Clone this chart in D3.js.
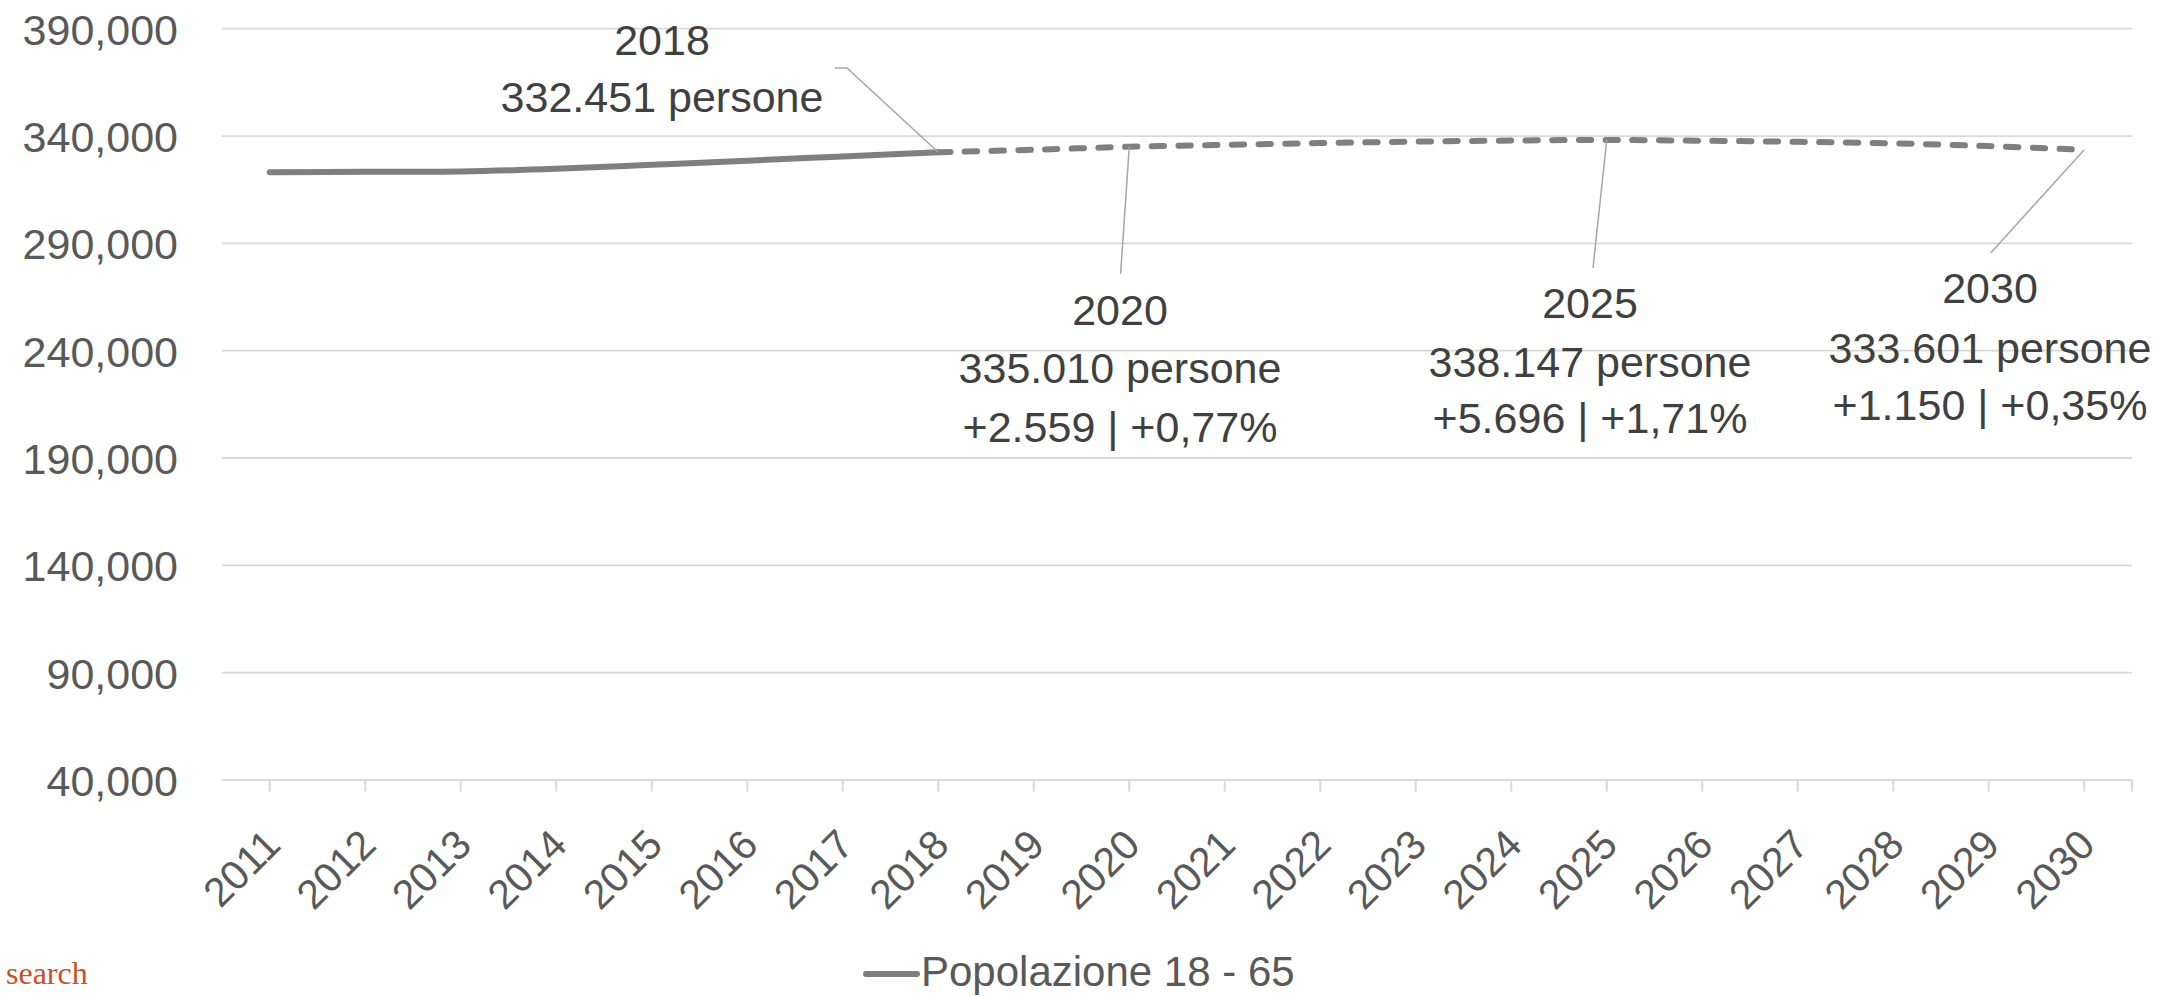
<!DOCTYPE html>
<html>
<head>
<meta charset="utf-8">
<script src="https://cdn.jsdelivr.net/npm/d3@7/dist/d3.min.js"></script>
<style>
  html, body { margin: 0; padding: 0; background: #ffffff; }
  svg { display: block; }
</style>
</head>
<body>
<svg id="chart" width="2181" height="996"></svg>
<script>
// ---------------- DATA ----------------
const years = [2011, 2012, 2013, 2014, 2015, 2016, 2017, 2018, 2019, 2020,
               2021, 2022, 2023, 2024, 2025, 2026, 2027, 2028, 2029, 2030];
const storicoYears = [2011, 2012, 2013, 2014, 2015, 2016, 2017, 2018];
const storicoValues = [323100, 323400, 323500, 324700, 326600, 328500, 330500, 332451];
const proiezioneYears = [2018, 2019, 2020, 2021, 2022, 2023, 2024, 2025, 2026, 2027, 2028, 2029, 2030];
const proiezioneValues = [332451, 333600, 335010, 335900, 336700, 337400, 337900, 338147, 337800, 337300, 336600, 335300, 333601];
const yTicks = [40000, 90000, 140000, 190000, 240000, 290000, 340000, 390000];
const seriesName = "Popolazione 18 - 65";
const annotationYears = [2018, 2020, 2025, 2030];
const annotationValues = [332451, 335010, 338147, 333601];
const annotationTexts = [
  ["2018", "332.451 persone"],
  ["2020", "335.010 persone", "+2.559 | +0,77%"],
  ["2025", "338.147 persone", "+5.696 | +1,71%"],
  ["2030", "333.601 persone", "+1.150 | +0,35%"]
];
const sourceText = "search";

// ---------------- LAYOUT ----------------
const font = "'Liberation Sans', Arial, sans-serif";
const plot = { left: 222, right: 2132, top: 28.7, bottom: 780 };
// label layout: text centre x, baselines, leader start
const annLayout = [
  { cx: 662,  base: [55, 112],       leader: [[835, 68], [847, 68]] },
  { cx: 1120, base: [325, 383, 442], leader: [[1120.6, 274]] },
  { cx: 1590, base: [318, 377, 433], leader: [[1593, 268]] },
  { cx: 1990, base: [303, 363, 420], leader: [[1990.7, 253]] }
];

const svg = d3.select("#chart");

const x = d3.scalePoint().domain(years).range([plot.left, plot.right]).padding(0.5);
const y = d3.scaleLinear().domain([40000, 390000]).range([plot.bottom, plot.top]);

// gridlines
svg.append("g").selectAll("line").data(yTicks.filter(d => d !== 40000)).join("line")
  .attr("x1", plot.left).attr("x2", plot.right)
  .attr("y1", d => y(d)).attr("y2", d => y(d))
  .attr("stroke", "#d9d9d9").attr("stroke-width", 1.8);

// y axis labels
const yAxis = d3.axisLeft(y).tickValues(yTicks).tickSize(0).tickPadding(0)
  .tickFormat(d3.format(","));
const gy = svg.append("g").attr("transform", `translate(${178},0)`).call(yAxis);
gy.select(".domain").remove();
gy.selectAll("text").attr("font-family", font).attr("font-size", 43)
  .attr("fill", "#595959").attr("dy", "0.36em");

// x axis
const gx = svg.append("g").attr("transform", `translate(0,${plot.bottom})`);
gx.append("line").attr("x1", plot.left).attr("x2", plot.right)
  .attr("stroke", "#d9d9d9").attr("stroke-width", 2);
const tickXs = years.map(d => x(d)).concat([plot.right]);
gx.selectAll("line.tick").data(tickXs).join("line").attr("class", "tick")
  .attr("x1", d => d).attr("x2", d => d).attr("y1", 0).attr("y2", 11.5)
  .attr("stroke", "#d9d9d9").attr("stroke-width", 2);
gx.selectAll("text").data(years).join("text")
  .attr("transform", d => `translate(${x(d) + 13},${67}) rotate(-45)`)
  .attr("text-anchor", "end")
  .attr("font-family", font).attr("font-size", 41).attr("fill", "#595959")
  .text(d => d);

// lines
const line = d3.line().x(d => x(d[0])).y(d => y(d[1])).curve(d3.curveCardinal.tension(0));
svg.append("path")
  .datum(proiezioneYears.map((d, i) => [d, proiezioneValues[i]]))
  .attr("d", line).attr("fill", "none").attr("stroke", "#7f7f7f")
  .attr("stroke-width", 6).attr("stroke-linecap", "round")
  .attr("stroke-dasharray", "12.3 14.4");
svg.append("path")
  .datum(storicoYears.map((d, i) => [d, storicoValues[i]]))
  .attr("d", line).attr("fill", "none").attr("stroke", "#7f7f7f")
  .attr("stroke-width", 6).attr("stroke-linecap", "round").attr("stroke-linejoin", "round");

// annotations
annotationYears.forEach((yr, i) => {
  const L = annLayout[i];
  const pts = L.leader.concat([[x(yr), y(annotationValues[i])]]);
  svg.append("path").attr("d", d3.line()(pts))
    .attr("fill", "none").attr("stroke", "#a6a6a6").attr("stroke-width", 1.5);
  const t = svg.append("text").attr("font-family", font).attr("font-size", 43)
    .attr("fill", "#404040").attr("text-anchor", "middle");
  annotationTexts[i].forEach((s, j) => {
    t.append("tspan").attr("x", L.cx).attr("y", L.base[j]).text(s);
  });
});

// legend
const lg = svg.append("g");
lg.append("line").attr("x1", 866).attr("x2", 917).attr("y1", 974).attr("y2", 974)
  .attr("stroke", "#7f7f7f").attr("stroke-width", 6).attr("stroke-linecap", "round");
lg.append("text").attr("x", 921).attr("y", 986).attr("font-family", font)
  .attr("font-size", 42).attr("fill", "#595959").text(seriesName);

// source text in the bottom-left corner
svg.append("text").attr("x", 6).attr("y", 984)
  .attr("font-family", "'Liberation Serif', serif").attr("font-size", 32)
  .attr("fill", "#c8502a").text(sourceText);
</script>
</body>
</html>
